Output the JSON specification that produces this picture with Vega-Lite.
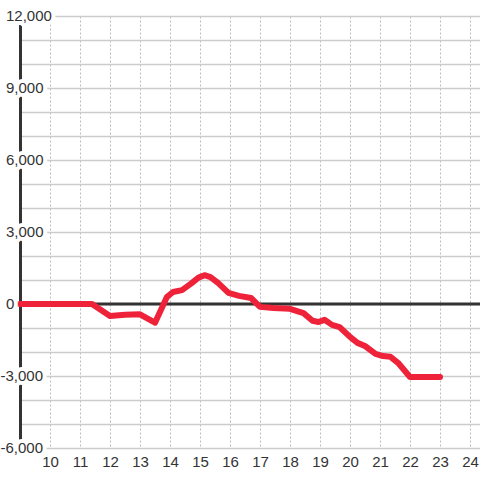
{
  "$schema": "https://vega.github.io/schema/vega-lite/v6.json",
  "width": 460,
  "height": 432,
  "autosize": {"type": "none"},
  "padding": {"left": 20, "top": 16, "right": 0, "bottom": 32},
  "background": "white",
  "config": {"view": {"stroke": null}, "font": "Liberation Sans"},
  "datasets": {
    "balance": [
      {"t": 9.0, "v": 0},
      {"t": 11.4, "v": 0},
      {"t": 12.0, "v": -500},
      {"t": 12.5, "v": -450},
      {"t": 13.0, "v": -430},
      {"t": 13.5, "v": -780},
      {"t": 13.9, "v": 300},
      {"t": 14.1, "v": 500},
      {"t": 14.4, "v": 580},
      {"t": 14.7, "v": 850},
      {"t": 14.95, "v": 1100},
      {"t": 15.15, "v": 1200},
      {"t": 15.35, "v": 1120},
      {"t": 15.6, "v": 880},
      {"t": 15.95, "v": 460},
      {"t": 16.3, "v": 340},
      {"t": 16.7, "v": 250},
      {"t": 17.0, "v": -120},
      {"t": 17.45, "v": -170},
      {"t": 18.0, "v": -200},
      {"t": 18.45, "v": -380},
      {"t": 18.75, "v": -700},
      {"t": 18.95, "v": -750},
      {"t": 19.15, "v": -660},
      {"t": 19.4, "v": -870},
      {"t": 19.65, "v": -960},
      {"t": 20.0, "v": -1370},
      {"t": 20.25, "v": -1620},
      {"t": 20.5, "v": -1750},
      {"t": 20.85, "v": -2080},
      {"t": 21.1, "v": -2170},
      {"t": 21.35, "v": -2200},
      {"t": 21.6, "v": -2450},
      {"t": 22.0, "v": -3040},
      {"t": 23.0, "v": -3040}
    ],
    "ticks": [
      {"v": 12000, "label": "12,000"},
      {"v": 9000, "label": "9,000"},
      {"v": 6000, "label": "6,000"},
      {"v": 3000, "label": "3,000"},
      {"v": 0, "label": "0"},
      {"v": -3000, "label": "-3,000"},
      {"v": -6000, "label": "-6,000"}
    ],
    "zero": [{"v": 0}]
  },
  "layer": [
    {
      "data": {"name": "balance"},
      "mark": {"type": "line", "color": "#ee2238", "strokeWidth": 6, "opacity": 0},
      "encoding": {
        "x": {
          "field": "t",
          "type": "quantitative",
          "scale": {"domain": [9, 24.333], "nice": false, "zero": false},
          "axis": {
            "values": [9, 10, 11, 12, 13, 14, 15, 16, 17, 18, 19, 20, 21, 22, 23, 24],
            "tickCount": 40,
            "format": "d",
            "grid": true,
            "gridDash": [2, 2],
            "gridColor": "#bbbbbb",
            "gridWidth": 1,
            "domain": false,
            "ticks": false,
            "labelOverlap": false,
            "labelExpr": "datum.value == 9 ? '' : datum.label",
            "labelFontSize": 15,
            "labelColor": "#333333",
            "labelPadding": 6,
            "title": null
          }
        },
        "y": {
          "field": "v",
          "type": "quantitative",
          "scale": {"domain": [-6000, 12000], "nice": false, "zero": false},
          "axis": {
            "values": [-6000, -5000, -4000, -3000, -2000, -1000, 0, 1000, 2000, 3000, 4000, 5000, 6000, 7000, 8000, 9000, 10000, 11000, 12000],
            "tickCount": 40,
            "grid": true,
            "gridColor": "#cccccc",
            "gridWidth": 1.5,
            "labels": false,
            "ticks": false,
            "domain": true,
            "domainColor": "#333333",
            "domainWidth": 3,
            "title": null
          }
        }
      }
    },
    {
      "data": {"name": "zero"},
      "mark": {"type": "rule", "color": "#333333", "strokeWidth": 3},
      "encoding": {
        "y": {"field": "v", "type": "quantitative"}
      }
    },
    {
      "data": {"name": "balance"},
      "mark": {"type": "line", "color": "#ee2238", "strokeWidth": 6, "strokeCap": "round", "strokeJoin": "round"},
      "encoding": {
        "x": {"field": "t", "type": "quantitative"},
        "y": {"field": "v", "type": "quantitative"}
      }
    },
    {
      "data": {"name": "ticks"},
      "mark": {
        "type": "text",
        "fontSize": 15,
        "baseline": "middle",
        "align": {"expr": "datum.v < 0 ? 'right' : 'left'"},
        "dx": {"expr": "datum.v < 0 ? 23 : -14"},
        "fill": "white",
        "stroke": "white",
        "strokeWidth": 8,
        "strokeJoin": "round"
      },
      "encoding": {
        "x": {"datum": 9, "type": "quantitative"},
        "y": {"field": "v", "type": "quantitative"},
        "text": {"field": "label"}
      }
    },
    {
      "data": {"name": "ticks"},
      "mark": {
        "type": "text",
        "fontSize": 15,
        "baseline": "middle",
        "align": {"expr": "datum.v < 0 ? 'right' : 'left'"},
        "dx": {"expr": "datum.v < 0 ? 23 : -14"},
        "fill": "#333333"
      },
      "encoding": {
        "x": {"datum": 9, "type": "quantitative"},
        "y": {"field": "v", "type": "quantitative"},
        "text": {"field": "label"}
      }
    }
  ]
}
